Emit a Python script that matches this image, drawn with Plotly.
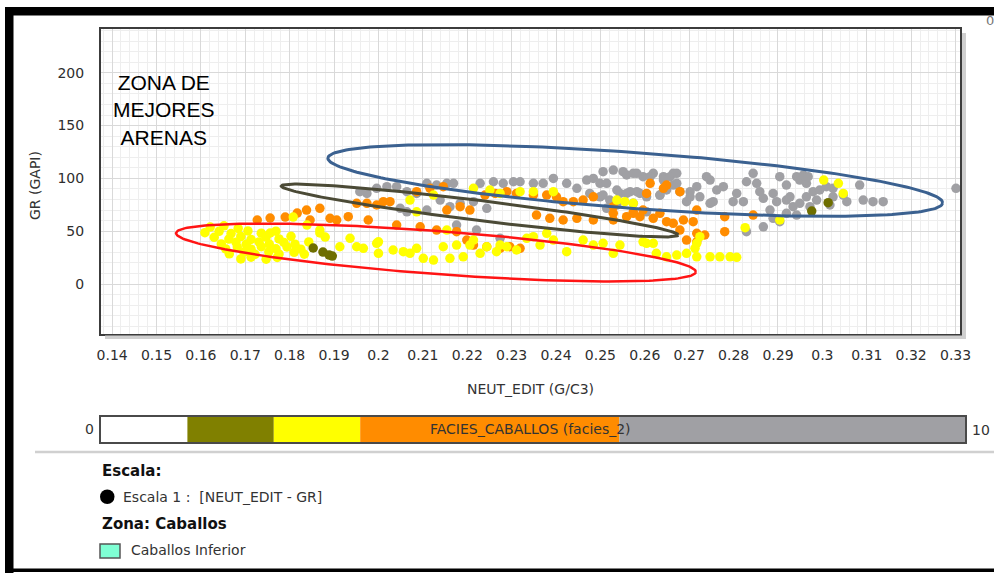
import math
import plotly.graph_objects as go

# ---------------- data ----------------
X_TICKS = [0.14, 0.15, 0.16, 0.17, 0.18, 0.19, 0.20, 0.21, 0.22, 0.23,
           0.24, 0.25, 0.26, 0.27, 0.28, 0.29, 0.30, 0.31, 0.32, 0.33]
X_TICK_LABELS = ["0.14", "0.15", "0.16", "0.17", "0.18", "0.19", "0.2", "0.21", "0.22", "0.23",
                 "0.24", "0.25", "0.26", "0.27", "0.28", "0.29", "0.3", "0.31", "0.32", "0.33"]
Y_TICKS = [0, 50, 100, 150, 200]
Y_TICK_LABELS = ["0", "50", "100", "150", "200"]

# facies 6-10 (gray)
GRAY_PTS = [
    (0.1958, 87.4), (0.1974, 85.8), (0.1996, 90.6), (0.2019, 92.1), (0.2041, 92.1), (0.2064, 87.4),
    (0.2086, 85.8), (0.2109, 95.3), (0.2131, 93.7), (0.2154, 95.3), (0.2169, 95.3), (0.2139, 79.5),
    (0.2161, 73.2), (0.2184, 76.4), (0.2214, 77.9), (0.2244, 71.7), (0.2049, 71.7), (0.2064, 68.4),
    (0.2109, 70.0), (0.2176, 55.8), (0.2221, 51.1), (0.2274, 43.3), (0.2229, 95.3), (0.2259, 96.8),
    (0.2281, 95.3), (0.2304, 96.8), (0.2319, 96.8), (0.2349, 95.3), (0.2371, 95.3), (0.2394, 100.0),
    (0.2424, 95.3), (0.2447, 90.6), (0.2469, 98.4), (0.2484, 100.0), (0.2506, 106.3), (0.2529, 107.9),
    (0.2551, 106.3), (0.2574, 104.8), (0.2596, 101.6), (0.2619, 104.8), (0.2642, 101.6), (0.2664, 104.8),
    (0.2672, 95.3), (0.2649, 90.6), (0.2634, 84.2), (0.2499, 95.3), (0.2476, 85.8), (0.2499, 82.6),
    (0.2521, 79.5), (0.2544, 85.8), (0.2567, 87.4), (0.2589, 85.8), (0.2604, 82.6), (0.2574, 76.4),
    (0.2537, 74.8), (0.2514, 71.7), (0.2702, 87.4), (0.2694, 77.9), (0.2604, 68.4),
    (0.2559, 103.2), (0.2582, 104.8), (0.2612, 101.6), (0.2642, 98.4), (0.2657, 101.6), (0.2672, 104.8),
    (0.2514, 95.3), (0.2537, 89.0), (0.2559, 85.8), (0.2506, 84.2), (0.2582, 87.4), (0.2634, 84.2),
    (0.2649, 89.0), (0.2664, 93.7), (0.2679, 87.4), (0.2702, 82.6), (0.2717, 92.1), (0.2724, 82.6),
    (0.2747, 76.4), (0.2762, 89.0), (0.2777, 92.1), (0.2807, 85.8), (0.2822, 77.9), (0.2844, 104.8),
    (0.2852, 95.3), (0.2829, 96.8), (0.2859, 87.4), (0.2867, 81.1), (0.2882, 70.0), (0.2897, 77.9),
    (0.2889, 85.8), (0.2904, 101.6), (0.2919, 93.7), (0.2927, 82.6), (0.2934, 73.2), (0.2949, 98.4),
    (0.2964, 95.3), (0.2979, 87.4), (0.2987, 79.5), (0.3009, 92.1), (0.3024, 82.6), (0.3055, 77.9),
    (0.3084, 93.7), (0.3092, 79.5), (0.3114, 77.9), (0.3137, 77.9), (0.3301, 90.6), (0.2867, 54.2),
    (0.2829, 49.5), (0.2904, 59.0), (0.2754, 77.9), (0.2799, 77.9), (0.2739, 101.6), (0.2747, 98.4),
    (0.2942, 101.6), (0.2957, 103.2), (0.2968, 101.6), (0.2919, 79.5), (0.2949, 76.4), (0.2964, 82.6),
    (0.2972, 73.2), (0.2994, 89.0), (0.3017, 74.8), (0.2919, 66.9), (0.2942, 65.3), (0.2889, 62.2),
    (0.3024, 90.6), (0.3047, 84.2),
]

# facies 3-6 (orange)
ORANGE_PTS = [
    (0.1727, 60.6), (0.1756, 62.5), (0.1790, 63.4), (0.1817, 67.2),
    (0.1838, 70.0), (0.1868, 71.7), (0.1846, 60.6), (0.1891, 62.2), (0.1906, 60.6), (0.1932, 63.7),
    (0.1951, 76.4), (0.1974, 76.4), (0.1996, 74.8), (0.2011, 77.9), (0.2026, 77.9), (0.1977, 60.6),
    (0.2041, 55.8), (0.2086, 87.4), (0.2116, 90.6), (0.2146, 92.1), (0.2154, 70.0), (0.2184, 73.2),
    (0.2206, 70.0), (0.2240, 84.2), (0.2263, 85.8), (0.2289, 87.4), (0.2311, 85.8), (0.2349, 84.2),
    (0.2379, 84.2), (0.2401, 82.6), (0.2416, 77.9), (0.2439, 77.9), (0.2461, 79.5), (0.2484, 82.6),
    (0.2094, 54.2), (0.2131, 51.1), (0.2176, 49.5), (0.2199, 41.6), (0.2214, 36.9), (0.2244, 35.3),
    (0.2274, 33.8), (0.2296, 35.3), (0.2319, 33.8), (0.2356, 65.3), (0.2386, 62.2), (0.2416, 60.6),
    (0.2447, 62.2), (0.2484, 60.6), (0.2529, 60.6), (0.2574, 66.9), (0.2612, 95.3), (0.2604, 85.8),
    (0.2649, 93.7), (0.2679, 87.4), (0.2687, 60.6), (0.2664, 57.5), (0.2709, 59.0), (0.2619, 62.2),
    (0.2694, 41.6), (0.2717, 48.0), (0.2642, 90.6), (0.2717, 70.0), (0.2649, 59.0), (0.2679, 51.1),
    (0.2717, 40.0), (0.2735, 46.4), (0.2780, 63.7), (0.2780, 49.5), (0.2844, 65.3), (0.2529, 73.2),
    (0.2574, 68.4), (0.2589, 63.7), (0.2634, 66.9), (0.2596, 70.0), (0.2529, 66.9), (0.2559, 63.7),
]

# facies 2-3 (yellow)
YELLOW_PTS = [
    (0.1621, 53.9), (0.1652, 55.1), (0.1684, 52.6),
    (0.1609, 48.6), (0.1641, 49.9), (0.1668, 47.8), (0.1706, 50.3), (0.1736, 48.1), (0.1769, 50.0),
    (0.1630, 44.2), (0.1663, 42.6), (0.1690, 44.9), (0.1713, 42.2), (0.1747, 44.4), (0.1776, 42.7),
    (0.1803, 45.2),
    (0.1646, 38.0), (0.1679, 39.6), (0.1702, 37.6), (0.1731, 39.9), (0.1754, 37.9), (0.1787, 39.4),
    (0.1812, 37.7), (0.1843, 39.8),
    (0.1656, 33.2), (0.1682, 35.0), (0.1713, 33.0), (0.1736, 35.3), (0.1769, 33.4), (0.1794, 35.1),
    (0.1825, 33.0),
    (0.1664, 28.6), (0.1697, 30.2), (0.1722, 28.1), (0.1753, 30.4), (0.1776, 28.4), (0.1810, 30.0),
    (0.1833, 28.2),
    (0.1690, 23.8), (0.1713, 25.4), (0.1747, 23.5), (0.1772, 25.1),
    (0.1808, 63.4), (0.1839, 55.8), (0.1868, 48.3), (0.1880, 44.5), (0.1756, 48.3),
    (0.1913, 35.3), (0.1936, 43.3), (0.1951, 35.3), (0.1966, 33.8), (0.1996, 38.5), (0.2000, 29.1),
    (0.2033, 32.2), (0.2056, 30.6), (0.2071, 29.1), (0.2086, 33.8), (0.2101, 24.3), (0.2124, 22.7),
    (0.2146, 35.3), (0.2161, 24.3), (0.2176, 36.9), (0.2191, 25.8), (0.2206, 36.9), (0.2229, 29.1),
    (0.2244, 35.3), (0.2266, 30.6), (0.2289, 35.3), (0.2311, 32.2), (0.2334, 43.3),
    (0.2424, 30.6), (0.2461, 41.6), (0.2484, 36.9), (0.2394, 41.6), (0.2364, 36.9),
    (0.2214, 90.6), (0.2251, 89.0), (0.2274, 85.8), (0.2319, 87.4), (0.2349, 87.4), (0.2394, 87.4),
    (0.2071, 79.5), (0.2124, 84.2), (0.2086, 68.4), (0.2154, 51.1), (0.2214, 41.6), (0.2274, 36.9),
    (0.2349, 44.8), (0.2379, 48.0), (0.1868, 51.1), (0.2000, 40.0), (0.2537, 79.5), (0.2555, 77.9),
    (0.2574, 76.4),
    (0.3003, 98.4), (0.3036, 95.3), (0.3047, 85.8), (0.2904, 60.6), (0.2826, 53.3),
    (0.2506, 38.5), (0.2544, 36.9), (0.2604, 38.5), (0.2626, 29.1), (0.2649, 25.8), (0.2672, 27.4),
    (0.2694, 29.1), (0.2717, 38.5), (0.2724, 44.8), (0.2713, 33.8), (0.2747, 25.8), (0.2769, 25.8),
    (0.2792, 25.8), (0.2807, 25.3), (0.2596, 40.0), (0.2619, 38.5), (0.2529, 29.1), (0.2717, 25.8),
]

# facies 1-2 (olive)
OLIVE_PTS = [(0.1853, 34.1), (0.1875, 30.3), (0.1889, 27.4), (0.1896, 26.5), (0.3013, 77.0), (0.2976, 69.1)]

# colour scale of facies (0 - 10)
FACIES_STARTS = [0, 1, 2, 3, 6]
FACIES_WIDTHS = [1, 1, 1, 3, 4]
FACIES_COLORS = ["#ffffff", "#808000", "#ffff00", "#ff8c00", "#a0a0a4"]

# hand-drawn ellipses: tips (data coordinates) and half width (px)
ELLIPSES = [
    dict(tip_a=(0.1886, 119.3), tip_b=(0.3271, 76.7), half_px=28, color="#3b6190", width=3),
    dict(tip_a=(0.1781, 92.8), tip_b=(0.2675, 46.4), half_px=10, color="#4b4a36", width=3),
    dict(tip_a=(0.1544, 48.3), tip_b=(0.2715, 11.4), half_px=21.5, color="#ff1414", width=2.5),
]

# ---------------- layout constants ----------------
W, H = 994, 573
X_RANGE = [0.1375, 0.331]
Y_RANGE = [-47.3, 241.4]
PX_L, PX_R, PX_T, PX_B = 101, 960, 29, 334
FONT = "DejaVu Sans"


def px(x):
    return x / W


def py(y):
    return 1 - y / H


SX = (PX_R - PX_L) / (X_RANGE[1] - X_RANGE[0])
SY = (PX_B - PX_T) / (Y_RANGE[1] - Y_RANGE[0])


def ellipse(tip_a, tip_b, half_px, n=240):
    ax, ay = tip_a[0] * SX, tip_a[1] * SY
    bx, by = tip_b[0] * SX, tip_b[1] * SY
    cx, cy = (ax + bx) / 2, (ay + by) / 2
    a = math.hypot(bx - ax, by - ay) / 2
    th = math.atan2(by - ay, bx - ax)
    xs, ys = [], []
    for i in range(n + 1):
        t = 2 * math.pi * i / n
        u, v = a * math.cos(t), half_px * math.sin(t)
        X = cx + u * math.cos(th) - v * math.sin(th)
        Y = cy + u * math.sin(th) + v * math.cos(th)
        xs.append(X / SX)
        ys.append(Y / SY)
    return xs, ys


fig = go.Figure()

for pts, col in [(GRAY_PTS, "#a0a0a4"), (ORANGE_PTS, "#ff8c00"),
                 (YELLOW_PTS, "#ffff00"), (OLIVE_PTS, "#6e6e00")]:
    fig.add_trace(go.Scatter(
        x=[p[0] for p in pts], y=[p[1] for p in pts], mode="markers",
        marker=dict(size=9.5, color=col, line=dict(width=0)),
        showlegend=False, hoverinfo="skip"))

for e in ELLIPSES:
    ex, ey = ellipse(e["tip_a"], e["tip_b"], e["half_px"])
    fig.add_trace(go.Scatter(x=ex, y=ey, mode="lines",
                             line=dict(color=e["color"], width=e["width"]),
                             showlegend=False, hoverinfo="skip"))

fig.add_trace(go.Bar(
    x=FACIES_WIDTHS, base=FACIES_STARTS, y=[0] * len(FACIES_WIDTHS), orientation="h", width=1,
    marker=dict(color=FACIES_COLORS, line=dict(width=0)),
    xaxis="x2", yaxis="y2", showlegend=False, hoverinfo="skip"))

tickfont = dict(family=FONT, size=14, color="#2e2e2e")

fig.update_layout(
    width=W, height=H, autosize=False,
    margin=dict(l=0, r=0, t=0, b=0, pad=0, autoexpand=False),
    paper_bgcolor="#ffffff", plot_bgcolor="#ffffff",
    barmode="overlay",
    xaxis=dict(domain=[px(PX_L), px(PX_R)], range=X_RANGE, tickmode="array",
               tickvals=X_TICKS, ticktext=X_TICK_LABELS, showgrid=True,
               gridcolor="#d9d9d9", gridwidth=1, zeroline=False, ticks="",
               showline=True, mirror=True, linecolor="#3c3c3c", linewidth=2,
               tickfont=tickfont, ticklabelstandoff=7, automargin=False,
               minor=dict(tick0=0.14, dtick=0.002, showgrid=True, gridcolor="#eeeeee", gridwidth=1)),
    yaxis=dict(domain=[py(PX_B), py(PX_T)], range=Y_RANGE, tickmode="array",
               tickvals=Y_TICKS, ticktext=Y_TICK_LABELS, showgrid=True,
               gridcolor="#d9d9d9", gridwidth=1, zeroline=False, ticks="",
               showline=True, mirror=True, linecolor="#3c3c3c", linewidth=2,
               tickfont=tickfont, ticklabelstandoff=12, automargin=False,
               minor=dict(tick0=0, dtick=10, showgrid=True, gridcolor="#eeeeee", gridwidth=1)),
    xaxis2=dict(domain=[px(101), px(965)], range=[0, 10], anchor="y2", showgrid=False,
                showticklabels=False, zeroline=False, ticks="", showline=True, mirror=True,
                linecolor="#4a4a4a", linewidth=1.5, automargin=False),
    yaxis2=dict(domain=[py(442), py(416.5)], range=[-0.5, 0.5], anchor="x2", showgrid=False,
                showticklabels=False, zeroline=False, ticks="", showline=True, mirror=True,
                linecolor="#4a4a4a", linewidth=1.5, automargin=False),
)

shapes = [
    # outer black frame
    dict(type="rect", xref="paper", yref="paper", x0=px(5), x1=1, y0=py(15.5), y1=py(7),
         fillcolor="#000000", line=dict(width=0)),
    dict(type="rect", xref="paper", yref="paper", x0=px(5), x1=px(13.5), y0=0, y1=py(7),
         fillcolor="#000000", line=dict(width=0)),
    dict(type="rect", xref="paper", yref="paper", x0=px(5), x1=1, y0=py(572), y1=py(568.5),
         fillcolor="#000000", line=dict(width=0)),
    # plot shadow
    dict(type="rect", xref="paper", yref="paper", x0=px(962), x1=px(966), y0=py(339), y1=py(33),
         fillcolor="#cfcfcf", line=dict(width=0)),
    dict(type="rect", xref="paper", yref="paper", x0=px(105), x1=px(966), y0=py(339), y1=py(335.5),
         fillcolor="#cfcfcf", line=dict(width=0)),
    # separator
    dict(type="line", xref="paper", yref="paper", x0=px(35), x1=1, y0=py(452), y1=py(452),
         line=dict(color="#d0d0d0", width=2.5)),
    # legend symbols
    dict(type="circle", xref="paper", yref="paper", x0=px(100), x1=px(114.5), y0=py(504), y1=py(489.5),
         fillcolor="#000000", line=dict(width=0)),
    dict(type="rect", xref="paper", yref="paper", x0=px(100), x1=px(120), y0=py(558), y1=py(544),
         fillcolor="#7fffd4", line=dict(color="#555555", width=1.5)),
]
fig.update_layout(shapes=shapes)


def ann(text, x, y, size=14, color="#333333", xanchor="center", angle=0, family=FONT, weight="normal"):
    return dict(text=text, x=px(x), y=py(y), xref="paper", yref="paper", showarrow=False,
                xanchor=xanchor, yanchor="middle", textangle=angle,
                font=dict(family=family, size=size, color=color, weight=weight))


annotations = [
    dict(text="ZONA DE<br>MEJORES<br>ARENAS", x=px(164), y=py(110), xref="paper", yref="paper",
         showarrow=False, xanchor="center", yanchor="middle", align="center",
         font=dict(family="Liberation Sans", size=21, color="#000000")),
    ann("GR (GAPI)", 35, 186, angle=-90),
    ann("NEUT_EDIT (G/C3)", 530, 389),
    ann("0", 89, 429),
    ann("10", 981, 430),
    ann("FACIES_CABALLOS (facies_2)", 530, 429),
    ann("Escala:", 100, 471, size=15, color="#111111", xanchor="left", weight="bold"),
    ann("Escala 1 :&nbsp; [NEUT_EDIT - GR]", 121, 497, xanchor="left"),
    ann("Zona: Caballos", 100, 524, size=15, color="#111111", xanchor="left", weight="bold"),
    ann("Caballos Inferior", 129, 550, xanchor="left"),
    ann("0", 990, 21, size=13, color="#777777"),
]
fig.update_layout(annotations=annotations)

fig.write_html("out.html",
               config={"displayModeBar": False, "responsive": False},
               post_script="document.body.style.margin='0';document.body.style.overflow='hidden';")
